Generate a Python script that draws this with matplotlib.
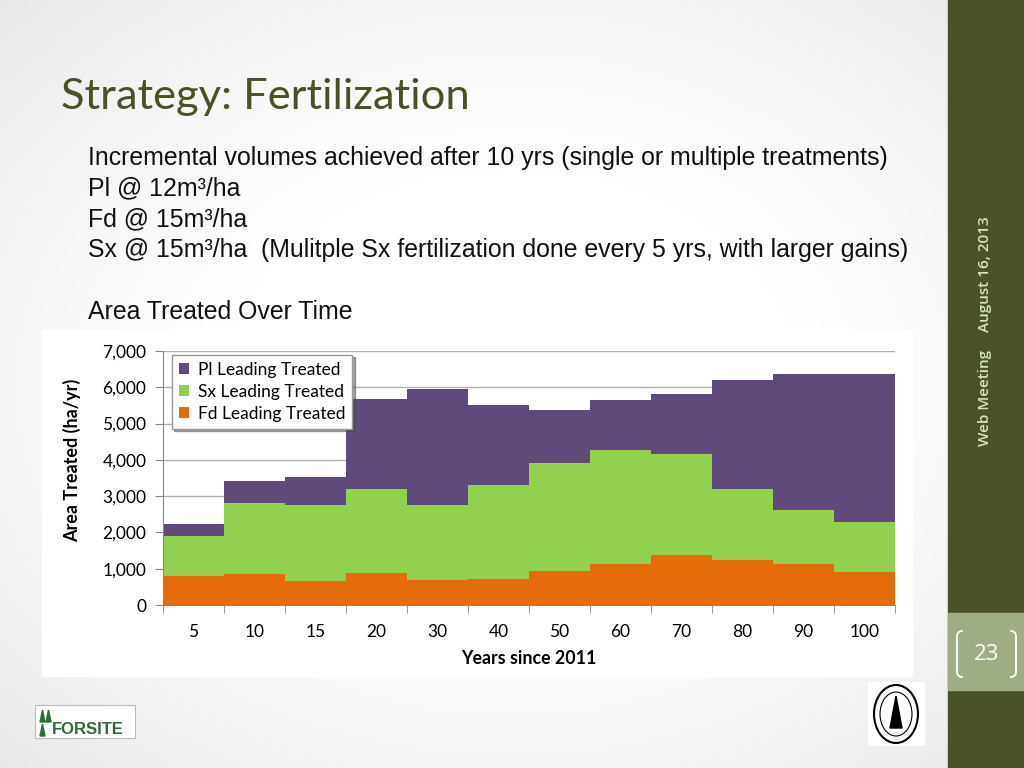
import numpy as np
import matplotlib.pyplot as plt
from matplotlib.patches import Rectangle, Ellipse, Polygon
from matplotlib.lines import Line2D

# data (ha/yr)
years = ['5', '10', '15', '20', '30', '40', '50', '60', '70', '80', '90', '100']
fd = [800, 850, 650, 870, 680, 730, 950, 1140, 1390, 1250, 1140, 920]
sx = [1115, 1960, 2105, 2330, 2075, 2590, 2960, 3120, 2770, 1950, 1490, 1360]
pl = [310, 610, 760, 2470, 3210, 2180, 1470, 1380, 1660, 2990, 3740, 4090]

body_lines = [
	'Incremental volumes achieved after 10 yrs (single or multiple treatments)',
	'Pl @ 12m³/ha',
	'Fd @ 15m³/ha',
	'Sx @ 15m³/ha  (Mulitple Sx fertilization done every 5 yrs, with larger gains)',
]

c_pl = '#604A7B'
c_sx = '#92D050'
c_fd = '#E46C0A'
olive = '#4A5229'

W, H = 1024, 768


def fx(px):
	return np.asarray(px) / W


def fy(py):
	return 1 - np.asarray(py) / H


fig = plt.figure(figsize=(10.24, 7.68), dpi=100)

# slide background with soft grey vignette
bg = fig.add_axes([0, 0, 1, 1], zorder=-10)
yy, xx = np.mgrid[0:1:200j, 0:1:260j]
d = np.sqrt(((xx - 0.5) / 0.62) ** 2 + ((yy - 0.5) / 0.62) ** 2)
shade = 1 - 0.13 * np.clip(d - 0.45, 0, None) ** 1.2
bg.imshow(np.dstack([shade] * 3), extent=[0, 1, 0, 1], aspect='auto')
bg.set_xlim(0, 1)
bg.set_ylim(0, 1)
bg.axis('off')

# right sidebar
fig.patches.append(Rectangle((fx(948), 0), 76 / W, 1, transform=fig.transFigure,
	color=olive, zorder=-5))
fig.patches.append(Rectangle((fx(948), fy(690)), 76 / W, 77 / H,
	transform=fig.transFigure, color='#9EAD86', zorder=-4))
fig.text(fx(985), fy(274), 'August 16, 2013', rotation=90, ha='center', va='center',
	color='#D9E2C4', fontsize=11, fontweight='semibold', family='Open Sans')
fig.text(fx(985), fy(398), 'Web Meeting', rotation=90, ha='center', va='center',
	color='#D9E2C4', fontsize=11, fontweight='semibold', family='Open Sans')
fig.text(fx(987), fy(655), '23', ha='center', va='center', color='white',
	fontsize=16, family='Open Sans')

# page-number brackets: vertical stroke, ends bending in toward the number
t = np.linspace(0, np.pi / 2, 10)
for xv, sgn in ((957, 1), (1016, -1)):
	top_x = xv + sgn * 5 * (1 - np.cos(t))
	top_y = 636 - 5 * np.sin(t)
	bx = np.concatenate([top_x[::-1], top_x])
	by = np.concatenate([top_y[::-1], 1308 - top_y])
	fig.lines.append(Line2D(fx(bx), fy(by), transform=fig.transFigure,
		color='white', lw=1.3))

# title and body text
fig.text(fx(61), fy(97), 'Strategy: Fertilization', ha='left', va='center',
	color='#4B5127', fontsize=31.3, family='Lato')
for i, line in enumerate(body_lines):
	fig.text(fx(88), fy(158 + 30.5 * i), line, ha='left', va='center',
		color='#111111', fontsize=17.9, family='Liberation Sans')
fig.text(fx(88), fy(312), 'Area Treated Over Time', ha='left', va='center',
	color='#111111', fontsize=17.9, family='Liberation Sans')

# white chart area
fig.patches.append(Rectangle((fx(42), fy(676)), 870 / W, 346 / H,
	transform=fig.transFigure, color='white', zorder=-3))

# chart
ax = fig.add_axes([fx(163), fy(605), 732 / W, 254 / H])
x = np.arange(len(years))
fd_a, sx_a, pl_a = np.array(fd), np.array(sx), np.array(pl)
ax.bar(x, fd_a, width=1.0, color=c_fd, label='Fd Leading Treated', zorder=2)
ax.bar(x, sx_a, width=1.0, bottom=fd_a, color=c_sx, label='Sx Leading Treated', zorder=2)
ax.bar(x, pl_a, width=1.0, bottom=fd_a + sx_a, color=c_pl, label='Pl Leading Treated', zorder=2)

ax.set_xlim(-0.5, len(years) - 0.5)
ax.set_ylim(0, 7000)
ax.set_yticks(np.arange(0, 7001, 1000))
ax.set_yticklabels([f'{v:,}' for v in range(0, 7001, 1000)], family='Lato', fontsize=12.5)
ax.set_xticks(x)
ax.set_xticklabels(years, family='Lato', fontsize=12.5)
ax.set_xticks(np.arange(-0.5, len(years)), minor=True)
ax.tick_params(axis='x', which='major', length=0, pad=14)
ax.tick_params(axis='x', which='minor', length=6, color='#888888')
ax.tick_params(axis='y', length=6, color='#888888', pad=6)
ax.grid(axis='y', color='#b0b0b0', lw=1, zorder=0)
for s in ('top', 'right'):
	ax.spines[s].set_visible(False)
for s in ('left', 'bottom'):
	ax.spines[s].set_color('#888888')

ax.set_ylabel('Area Treated (ha/yr)', family='Lato', fontweight='bold', fontsize=13)
ax.yaxis.set_label_coords(-0.112, 0.57)
ax.set_xlabel('Years since 2011', family='Lato', fontweight='bold', fontsize=12.8, labelpad=7)

h, l = ax.get_legend_handles_labels()
leg = ax.legend(h[::-1], l[::-1], loc='upper left', bbox_to_anchor=(0.0, 1.02),
	prop={'family': 'Lato', 'size': 12.5}, fancybox=False, shadow=True, framealpha=1,
	edgecolor='#999999', handlelength=0.6, handleheight=0.6, handletextpad=0.5,
	borderpad=0.4, labelspacing=0.35)
leg.set_zorder(5)

# logo placeholders
fig.patches.append(Rectangle((fx(35), fy(738)), 100 / W, 33 / H,
	transform=fig.transFigure, facecolor='white', edgecolor='#bbbbbb', lw=0.8))
fig.text(fx(88), fy(729), 'FORSITE', ha='center', va='center', color='#2E6B3A',
	fontsize=12, fontweight='bold', family='Liberation Sans')
for px, py in ((40, 722), (46, 722), (40, 736)):
	fig.patches.append(Polygon([[fx(px), fy(py)], [fx(px + 5), fy(py)],
		[fx(px + 2.5), fy(py - 12)]], closed=True, transform=fig.transFigure,
		color='#2E6B3A'))
fig.patches.append(Rectangle((fx(868), fy(746)), 57 / W, 64 / H,
	transform=fig.transFigure, facecolor='white', edgecolor='none'))
fig.patches.append(Ellipse((fx(896), fy(714)), 44 / W, 58 / H,
	transform=fig.transFigure, facecolor='white', edgecolor='black', lw=1.5))
fig.patches.append(Ellipse((fx(896), fy(714)), 32 / W, 44 / H,
	transform=fig.transFigure, facecolor='white', edgecolor='black', lw=0.8))
fig.patches.append(Polygon([[fx(890), fy(728)], [fx(902), fy(728)],
	[fx(896), fy(696)]], closed=True, transform=fig.transFigure, color='black'))

fig.savefig('out.png', dpi=100)
